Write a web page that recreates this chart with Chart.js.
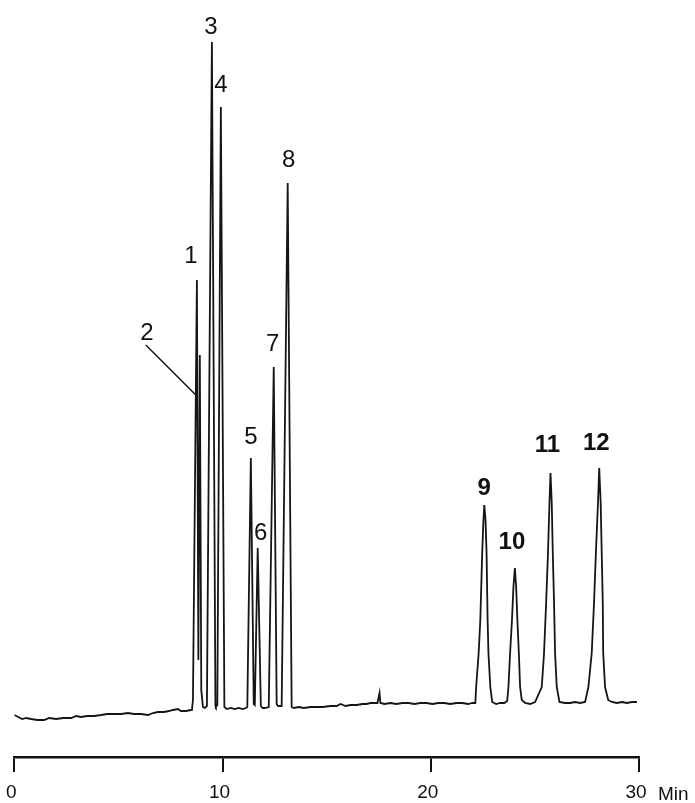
<!DOCTYPE html>
<html>
<head>
	<title>Cromatograma</title>
	<script src="https://cdn.jsdelivr.net/npm/chart.js"></script>
	<style>
		body { margin: 0; background: #fff; }
		#grafico { display: block; }
	</style>
</head>
<body>
	<canvas id="grafico" width="695" height="803"></canvas>

<script>
	// retention time (min) and detector signal
	var tempo = [
		0.00, 0.19, 0.38, 0.57, 0.81, 1.10, 1.44, 1.68, 2.01, 2.35, 2.73, 2.97, 3.21, 3.50, 3.83,
		4.17, 4.46, 4.79, 5.13, 5.46, 5.75, 6.09, 6.42, 6.66, 6.90, 7.19, 7.43, 7.62, 7.86, 8.00,
		8.24, 8.48, 8.53, 8.58, 8.77, 8.84, 8.91, 8.98, 9.06, 9.15, 9.25, 9.49, 9.66, 9.68, 9.75,
		9.92, 10.09, 10.21, 10.40, 10.59, 10.78, 10.97, 11.12, 11.19, 11.36, 11.50, 11.55, 11.69,
		11.84, 11.93, 12.03, 12.22, 12.46, 12.60, 12.67, 12.84, 13.13, 13.32, 13.42, 13.66, 13.90,
		14.23, 14.57, 14.81, 15.19, 15.48, 15.67, 15.91, 16.15, 16.44, 16.72, 16.91, 17.11, 17.30,
		17.44, 17.54, 17.58, 17.78, 18.06, 18.35, 18.64, 18.93, 19.21, 19.50, 19.79, 20.08, 20.36,
		20.65, 20.94, 21.23, 21.51, 21.80, 21.99, 22.14, 22.18, 22.30, 22.38, 22.47, 22.53, 22.57,
		22.63, 22.68, 22.73, 22.77, 22.86, 22.95, 23.14, 23.33, 23.53, 23.67, 23.73, 23.81, 23.90,
		23.97, 24.04, 24.10, 24.16, 24.23, 24.29, 24.37, 24.53, 24.77, 25.01, 25.33, 25.44, 25.54,
		25.63, 25.70, 25.75, 25.81, 25.86, 25.92, 25.97, 26.05, 26.18, 26.45, 26.69, 26.93, 27.17,
		27.41, 27.57, 27.73, 27.84, 27.93, 28.03, 28.09, 28.16, 28.21, 28.26, 28.28, 28.37, 28.52,
		28.70, 28.94, 29.18, 29.42, 29.66, 29.90
	];
	var sinal = [
		42, 40, 38, 39, 38, 37, 37, 39, 38, 39, 39, 41, 40, 41, 41,
		42, 43, 43, 43, 44, 43, 43, 42, 44, 45, 45, 46, 47, 48, 46,
		46, 47, 47, 57, 477, 97, 402, 67, 50, 49, 51, 715, 51, 50, 52,
		650, 50, 48, 49, 48, 49, 48, 49, 50, 299, 53, 52, 209,
		51, 49, 49, 50, 390, 53, 51, 51, 574, 50, 49, 50, 49,
		50, 50, 50, 51, 51, 53, 51, 52, 52, 53, 53, 54, 54,
		54, 64, 54, 53, 54, 53, 54, 54, 53, 54, 54, 53, 54,
		54, 53, 54, 54, 53, 54, 54, 70, 104, 137, 204, 237, 252,
		237, 204, 137, 104, 70, 55, 53, 54, 54, 56, 70, 104, 137,
		170, 189, 170, 137, 104, 70, 57, 54, 53, 55, 70, 104, 154,
		204, 254, 284, 254, 204, 154, 104, 70, 55, 54, 54, 55, 54,
		55, 70, 104, 154, 204, 254, 289, 254, 204, 154, 104, 70, 57,
		55, 54, 55, 54, 55, 55
	];

	// peak numbers, apex times and heights
	var picos = ['1', '2', '3', '4', '5', '6', '7', '8', '9', '10', '11', '12'];
	var picoTempo = [8.77, 8.91, 9.49, 9.92, 11.36, 11.69, 12.46, 13.13, 22.57, 24.04, 25.75, 28.09];
	var picoAltura = [477, 402, 715, 650, 299, 209, 390, 574, 252, 189, 284, 289];

	var ticksX = [0, 10, 20, 30];
	var unidade = 'Min';

	var pontos = [];
	for (var i = 0; i < tempo.length; i++) {
		pontos.push({ x: tempo[i], y: sinal[i] });
	}

	// label offsets from each apex (px) and font weight
	var rotDx = [-6, -53, -1, 0, 0, 3, -1, 1, 0, -3, -3, -3];
	var rotDy = [-26, -24, -17, -24, -23, -17, -25, -25, -19, -28, -30, -27];
	var rotPeso = ['normal', 'normal', 'normal', 'normal', 'normal', 'normal', 'normal', 'normal', 'bold', 'bold', 'bold', 'bold'];

	var rotulosPlugin = {
		id: 'rotulos',
		afterDraw: function (chart) {
			var ctx = chart.ctx;
			var sx = chart.scales.x;
			var sy = chart.scales.y;
			ctx.save();
			ctx.fillStyle = '#111';
			ctx.textAlign = 'center';
			ctx.textBaseline = 'alphabetic';
			for (var i = 0; i < picos.length; i++) {
				var px = sx.getPixelForValue(picoTempo[i]);
				var py = sy.getPixelForValue(picoAltura[i]);
				ctx.font = rotPeso[i] + ' 24px "Liberation Sans", Arial, sans-serif';
				ctx.fillText(picos[i], px + rotDx[i], py + rotDy[i] + 8.5);
			}
			// leader line for peak 2
			var p2x = sx.getPixelForValue(picoTempo[1]);
			var p2y = sy.getPixelForValue(picoAltura[1]);
			ctx.strokeStyle = '#111';
			ctx.lineWidth = 1.4;
			ctx.beginPath();
			ctx.moveTo(p2x - 54, p2y - 10);
			ctx.lineTo(p2x - 2, p2y + 42);
			ctx.stroke();

			// axis unit after the last tick
			ctx.font = '19px "Liberation Sans", Arial, sans-serif';
			ctx.textAlign = 'left';
			ctx.fillText(unidade, sx.right + 19, 800);
			ctx.restore();
		}
	};

	new Chart(document.getElementById('grafico'), {
		type: 'line',
		data: {
			datasets: [{
				data: pontos,
				borderColor: '#151515',
				borderWidth: 1.8,
				pointRadius: 0,
				tension: 0,
				fill: false
			}]
		},
		options: {
			responsive: false,
			animation: false,
			devicePixelRatio: 1,
			layout: { padding: { left: 13, right: 56, top: 20, bottom: 0 } },
			plugins: { legend: { display: false }, tooltip: { enabled: false } },
			scales: {
				x: {
					type: 'linear',
					min: 0,
					max: 30,
					afterFit: function (scale) { scale.height = 46; },
					afterBuildTicks: function (scale) {
						scale.ticks = ticksX.map(function (v) { return { value: v }; });
					},
					grid: {
						drawOnChartArea: false,
						drawTicks: true,
						tickLength: 15,
						color: '#111',
						lineWidth: 2
					},
					border: { display: true, color: '#111', width: 2.5 },
					ticks: {
						color: '#111',
						padding: 9,
						labelOffset: -3,
						maxRotation: 0,
						font: { family: '"Liberation Sans", Arial, sans-serif', size: 19 }
					}
				},
				y: {
					display: false,
					min: 0,
					max: 737
				}
			}
		},
		plugins: [rotulosPlugin]
	});
</script>
</body>
</html>
